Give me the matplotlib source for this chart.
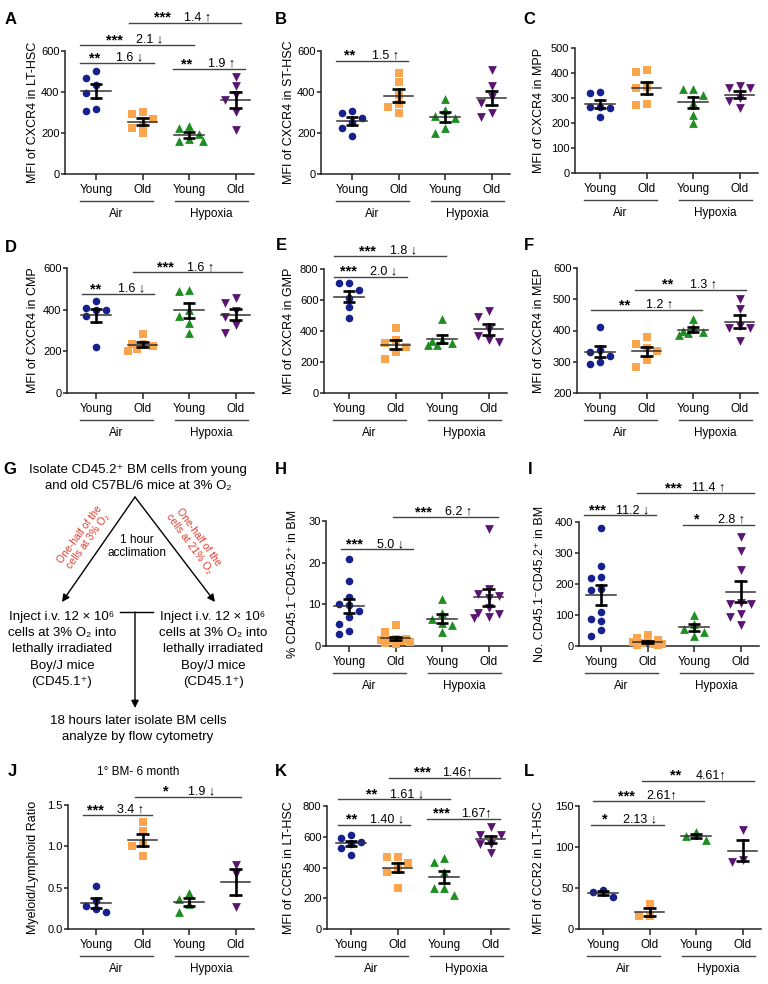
import numpy as np
import matplotlib
matplotlib.use('Agg')
import matplotlib.pyplot as plt
from matplotlib.transforms import ScaledTranslation

plt.rcParams['font.family'] = ['Liberation Sans', 'DejaVu Sans']

# ---------------- data ----------------
categories = ['Young', 'Old', 'Young', 'Old']
group_names = ['Air', 'Hypoxia']
group_colors = ['#16208E', '#FBA54E', '#1F8E22', '#5A1572']
group_markers = ['o', 's', '^', 'v']

A_young_air = [434, 470, 504, 397, 307, 317]
A_old_air = [300, 295, 270, 240, 200, 225]
A_young_hyp = [232, 222, 195, 160, 160, 170]
A_old_hyp = [472, 430, 385, 360, 300, 215]

B_young_air = [307, 296, 275, 255, 223, 185]
B_old_air = [494, 450, 384, 340, 328, 296]
B_young_hyp = [366, 312, 283, 275, 223, 198]
B_old_hyp = [507, 429, 374, 345, 299, 280]

C_young_air = [325, 320, 265, 265, 260, 225]
C_old_air = [410, 405, 345, 340, 275, 270]
C_young_hyp = [336, 336, 311, 280, 233, 200]
C_old_hyp = [347, 340, 340, 300, 289, 260]

D_young_air = [443, 410, 400, 397, 368, 221]
D_old_air = [285, 235, 235, 225, 210, 200]
D_young_hyp = [496, 490, 400, 368, 336, 288]
D_old_hyp = [456, 432, 392, 365, 325, 288]

E_young_air = [711, 707, 664, 610, 552, 487]
E_old_air = [420, 340, 320, 300, 265, 222]
E_young_hyp = [475, 340, 335, 320, 310, 310]
E_old_hyp = [530, 492, 405, 367, 340, 330]

F_young_air = [412, 338, 332, 318, 300, 294]
F_old_air = [380, 358, 345, 333, 305, 283]
F_young_hyp = [436, 410, 400, 395, 392, 385]
F_old_hyp = [502, 470, 415, 407, 407, 367]

H_young_air = [20.8, 15.6, 11.8, 10.2, 9.8, 8.5, 7.0, 5.3, 3.6, 2.9]
H_old_air = [5.0, 3.4, 1.8, 1.7, 1.5, 1.5, 1.2, 1.0, 0.8, 0.5]
H_young_hyp = [11.2, 8.0, 6.5, 5.5, 5.0, 3.3]
H_old_hyp = [28.2, 13.8, 12.5, 12.0, 11.5, 9.2, 8.0, 7.7, 7.0, 6.8]

I_young_air = [382, 258, 223, 220, 185, 180, 110, 88, 80, 51, 31]
I_old_air = [35, 25, 20, 15, 12, 10, 8, 5, 3, 2]
I_young_hyp = [99, 70, 56, 45, 33]
I_old_hyp = [352, 305, 244, 140, 134, 134, 102, 94, 69]

J_young_air = [0.515, 0.34, 0.28, 0.24, 0.20]
J_old_air = [1.30, 1.18, 1.03, 1.01, 0.88]
J_young_hyp = [0.43, 0.36, 0.30, 0.21]
J_old_hyp = [0.77, 0.67, 0.27]

K_young_air = [614, 589, 567, 556, 530, 481]
K_old_air = [470, 470, 427, 390, 373, 265]
K_young_hyp = [461, 438, 373, 265, 265, 222]
K_old_hyp = [664, 614, 614, 556, 556, 496]

L_young_air = [47.7, 45.7, 39.6]
L_old_air = [30, 16, 16]
L_young_hyp = [118, 113, 109]
L_old_hyp = [120.5, 84, 82]

# significance annotations: (x from, x to, y, stars, fold change)
A_sig = [(-0.35, 1.25, 541, '**', '1.6 ↓'), (-0.35, 2.1, 629, '***', '2.1 ↓'),
         (0.71, 3.11, 737, '***', '1.4 ↑'), (1.66, 3.2, 512, '**', '1.9 ↑')]
B_sig = [(-0.34, 1.2, 553, '**', '1.5 ↑')]
C_sig = []
D_sig = [(-0.3, 1.25, 475, '**', '1.6 ↓'), (0.79, 3.15, 579, '***', '1.6 ↑')]
E_sig = [(-0.32, 1.25, 750, '***', '2.0 ↓'), (-0.32, 2.09, 884, '***', '1.8 ↓')]
F_sig = [(-0.2, 2.2, 465, '**', '1.2 ↑'), (0.75, 3.14, 531, '**', '1.3 ↑')]
H_sig = [(-0.17, 1.38, 23.2, '***', '5.0 ↓'), (0.95, 3.2, 30.9, '***', '6.2 ↑')]
I_sig = [(-0.37, 1.18, 421, '***', '11.2 ↓'), (0.77, 3.3, 493, '***', '11.4 ↑'),
         (1.76, 3.3, 391, '*', '2.8 ↑')]
J_sig = [(-0.28, 1.2, 1.379, '***', '3.4 ↑'), (0.84, 3.12, 1.6, '*', '1.9 ↓')]
K_sig = [(-0.28, 1.27, 679, '**', '1.40 ↓'), (-0.28, 2.13, 843, '**', '1.61 ↓'),
         (0.82, 3.2, 983, '***', '1.46↑'), (1.63, 3.2, 718, '***', '1.67↑')]
L_sig = [(-0.26, 1.31, 127.4, '*', '2.13 ↓'), (-0.22, 2.18, 156, '***', '2.61↑'),
         (0.84, 3.25, 181, '**', '4.61↑')]

# ---------------- figure ----------------
W, H = 768, 984
fig = plt.figure(figsize=(W / 100, H / 100), dpi=100)

UNIT = 46.5
XR = 3.4
AXC = '#222222'
LINEC = '#444444'
MSIZE = {'o': 30, 's': 26, '^': 40, 'v': 40}


def swarm(vals, ypx, d=0.22, mpx=8.0):
    order = np.argsort(-vals, kind='stable')
    placed = []
    offs = np.zeros(len(vals))
    cands = [0, -1, 1, -0.5, 0.5, -1.4, 1.4]
    for i in order:
        y = vals[i] * ypx
        best, bestd = 0, -1
        for k in cands:
            x = k * d * UNIT
            md = min([np.hypot(x - px, y - py) for px, py in placed], default=1e9)
            if md >= mpx:
                best = k
                break
            if md > bestd:
                best, bestd = k, md
        offs[i] = best * d
        placed.append((best * d * UNIT, y))
    return offs


def down(ax, px):
    return ax.get_xaxis_transform() + ScaledTranslation(0, -px / 100, fig.dpi_scale_trans)


def panel(letter, letter_xy, spine, top, bottom, cat0, ylim, ystep, yfmt,
          ylabel, ylab_px, series, sig):
    xl = (spine - cat0) / UNIT
    right = cat0 + XR * UNIT
    ax = fig.add_axes([spine / W, 1 - bottom / H, (right - spine) / W, (bottom - top) / H])
    ax.set_xlim(xl, XR)
    ax.set_ylim(*ylim)
    for s in ['top', 'right']:
        ax.spines[s].set_visible(False)
    for s in ['left', 'bottom']:
        ax.spines[s].set_color(AXC)
        ax.spines[s].set_linewidth(1.1)
    ypx = (bottom - top) / (ylim[1] - ylim[0])
    for i, vals in enumerate(series):
        vals = np.asarray(vals, float)
        offs = swarm(vals, ypx)
        ax.scatter(i + offs, vals, marker=group_markers[i], s=MSIZE[group_markers[i]],
                   color=group_colors[i], linewidths=0, zorder=3, clip_on=False)
        m = vals.mean()
        sem = vals.std(ddof=1) / np.sqrt(len(vals))
        ax.plot([i - 0.32, i + 0.32], [m, m], color='#333333', lw=1.1, zorder=4)
        ax.plot([i, i], [m - sem, m + sem], color='black', lw=1.9, zorder=5)
        for yy in (m - sem, m + sem):
            ax.plot([i - 0.13, i + 0.13], [yy, yy], color='black', lw=1.9, zorder=5,
                    solid_capstyle='butt')
    ax.set_xticks(range(4))
    ax.set_xticklabels(categories, fontsize=8.5)
    yt = np.arange(ylim[0], ylim[1] + ystep / 2, ystep)
    ax.set_yticks(yt)
    ax.set_yticklabels([yfmt.format(v) for v in yt], fontsize=8)
    ax.tick_params(axis='x', length=4.5, width=1.1, color=AXC, pad=3)
    ax.tick_params(axis='y', length=3, width=1.1, color=AXC, pad=1)
    ax.set_ylabel(ylabel, fontsize=9, va='center')
    ax.yaxis.set_label_coords((ylab_px - spine) / (right - spine), 0.5)
    # group underlines
    for (g0, g1, gc), name in zip([(-0.35, 1.22, 0.44), (1.7, 3.27, 2.48)], group_names):
        ax.plot([g0, g1], [0, 0], transform=down(ax, 27), clip_on=False, color=LINEC, lw=1)
        ax.text(gc, 0, name, transform=down(ax, 40), ha='center', va='center', fontsize=8.5)
    # significance
    for x0, x1, y, stars, fold in sig:
        ax.plot([x0, x1], [y, y], color=LINEC, lw=1, clip_on=False)
        mid = (x0 + x1) / 2 - 0.1
        tr_s = ax.transData + ScaledTranslation(0, 1 / 100, fig.dpi_scale_trans)
        tr_f = ax.transData + ScaledTranslation(0, 2.5 / 100, fig.dpi_scale_trans)
        ax.text(mid - 0.38, y, stars, transform=tr_s, ha='center', va='baseline',
                fontsize=10.5, fontweight='bold', clip_on=False)
        ax.text(mid + 0.38, y, fold, transform=tr_f, ha='center', va='baseline',
                fontsize=9, clip_on=False)
    fig.text(letter_xy[0] / W, 1 - letter_xy[1] / H, letter, fontsize=12,
             fontweight='bold', ha='center', va='center')
    return ax


panel('A', (11, 20), 65, 51, 174, 96, (0, 600), 200, '{:.0f}', 'MFI of CXCR4 in LT-HSC', 33,
      [A_young_air, A_old_air, A_young_hyp, A_old_hyp], A_sig)
panel('B', (281, 20), 321, 51, 174, 352, (0, 600), 200, '{:.0f}', 'MFI of CXCR4 in ST-HSC', 289,
      [B_young_air, B_old_air, B_young_hyp, B_old_hyp], B_sig)
panel('C', (529, 20), 575, 48, 173, 600, (0, 500), 100, '{:.0f}', 'MFI of CXCR4 in MPP', 539,
      [C_young_air, C_old_air, C_young_hyp, C_old_hyp], C_sig)
panel('D', (11, 247), 67, 268, 393, 96, (0, 600), 200, '{:.0f}', 'MFI of CXCR4 in CMP', 33,
      [D_young_air, D_old_air, D_young_hyp, D_old_hyp], D_sig)
panel('E', (281, 246), 324, 269, 393, 349, (0, 800), 200, '{:.0f}', 'MFI of CXCR4 in GMP', 289,
      [E_young_air, E_old_air, E_young_hyp, E_old_hyp], E_sig)
panel('F', (529, 246), 577, 268, 393, 600, (200, 600), 100, '{:.0f}', 'MFI of CXCR4 in MEP', 539,
      [F_young_air, F_old_air, F_young_hyp, F_old_hyp], F_sig)
panel('H', (281, 470), 326, 521, 646, 349, (0, 30), 10, '{:.0f}', '% CD45.1⁻CD45.2⁺ in BM', 293,
      [H_young_air, H_old_air, H_young_hyp, H_old_hyp], H_sig)
panel('I', (530, 470), 579, 522, 646, 601, (0, 400), 100, '{:.0f}', 'No. CD45.1⁻CD45.2⁺ in BM', 540,
      [I_young_air, I_old_air, I_young_hyp, I_old_hyp], I_sig)
panel('J', (12, 772), 68, 805, 929, 96, (0, 1.5), 0.5, '{:.1f}', 'Myeloid/Lymphoid Ratio', 33,
      [J_young_air, J_old_air, J_young_hyp, J_old_hyp], J_sig)
panel('K', (281, 772), 327, 806, 929, 351, (0, 800), 200, '{:.0f}', 'MFI of CCR5 in LT-HSC', 289,
      [K_young_air, K_old_air, K_young_hyp, K_old_hyp], K_sig)
panel('L', (529, 772), 579, 806, 929, 603, (0, 150), 50, '{:.0f}', 'MFI of CCR2 in LT-HSC', 539,
      [L_young_air, L_old_air, L_young_hyp, L_old_hyp], L_sig)

fig.text(138 / W, 1 - 772 / H, '1° BM- 6 month', fontsize=8.5, ha='center', va='center')

# ---------------- flowchart (panel G) ----------------
fa = fig.add_axes([0, 0, 1, 1], zorder=-1)
fa.set_xlim(0, W)
fa.set_ylim(H, 0)
fa.axis('off')
fig.text(10 / W, 1 - 470 / H, 'G', fontsize=12, fontweight='bold', ha='center', va='center')
FS = 9.5
fa.text(138, 470, 'Isolate CD45.2⁺ BM cells from young', ha='center', va='center', fontsize=FS)
fa.text(138, 486, 'and old C57BL/6 mice at 3% O₂', ha='center', va='center', fontsize=FS)
arrow = dict(arrowstyle='-|>', color='black', lw=1, mutation_scale=11, shrinkA=0, shrinkB=0)
fa.annotate('', xy=(62, 602), xytext=(135, 497), arrowprops=arrow)
fa.annotate('', xy=(215, 602), xytext=(135, 497), arrowprops=arrow)
fa.text(137, 540, '1 hour', ha='center', va='center', fontsize=8.5)
fa.text(137, 553, 'acclimation', ha='center', va='center', fontsize=8.5)
fa.text(84, 538, 'One-half of the\ncells at 3% O₂', ha='center', va='center', fontsize=7.5,
        color='#E23B2E', rotation=54, linespacing=1.1)
fa.text(194, 540, 'One-half of the\ncells at 21% O₂', ha='center', va='center', fontsize=7.5,
        color='#E23B2E', rotation=-54, linespacing=1.1)
block = ['Inject i.v. 12 × 10⁶', 'cells at 3% O₂ into', 'lethally irradiated',
         'Boy/J mice', '(CD45.1⁺)']
for k, line in enumerate(block):
    fa.text(62, 617 + 16.2 * k, line, ha='center', va='center', fontsize=FS)
    fa.text(213, 617 + 16.2 * k, line, ha='center', va='center', fontsize=FS)
fa.plot([120, 153], [612, 612], color='black', lw=1)
fa.annotate('', xy=(135, 708), xytext=(135, 612), arrowprops=arrow)
fa.text(138, 721, '18 hours later isolate BM cells', ha='center', va='center', fontsize=FS)
fa.text(138, 737, 'analyze by flow cytometry', ha='center', va='center', fontsize=FS)

fig.savefig('out.png', dpi=100)
